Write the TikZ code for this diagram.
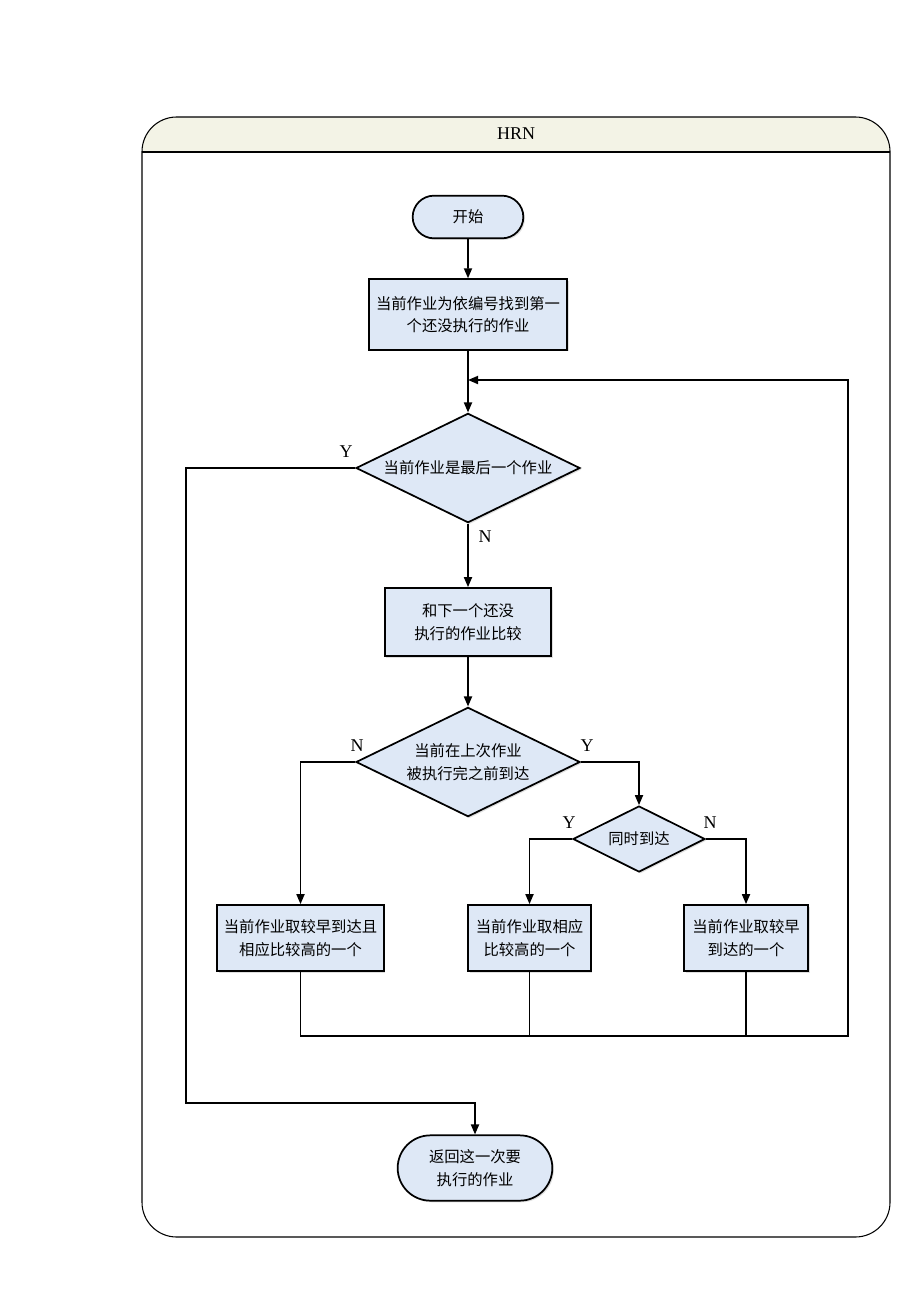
\documentclass[tikz,border=0pt]{standalone}
\usepackage{fontspec}
\setmainfont{Liberation Serif}
\newfontfamily\cjk{Noto Sans CJK SC}
\usepackage{tikz}
\usetikzlibrary{shapes,shapes.geometric,shapes.misc,arrows.meta,shadows,calc}

\definecolor{boxfill}{RGB}{222,232,246}
\definecolor{headfill}{RGB}{243,243,230}

\begin{document}
\begin{tikzpicture}[x=0.75pt, y=-0.75pt, line width=1.3pt,
        arr/.style={-{Triangle[length=7.5pt,width=6pt]}}]
      \tikzstyle{base} = [draw, fill=boxfill, inner sep=0pt, align=center,
        font=\cjk\fontsize{11.5}{17}\selectfont,
        drop shadow={shadow xshift=1.2pt, shadow yshift=-1.2pt, fill=black!25}]
      \tikzstyle{proc} = [base, rectangle]
      \tikzstyle{term} = [base, rounded rectangle]
      \tikzstyle{decide} = [base, diamond, aspect=2]
      \tikzstyle{yn} = [font=\fontsize{13.5}{15}\selectfont]
      \useasboundingbox (0,0) rectangle (920,1302);
      % frame with header
      \begin{scope}
        \clip[rounded corners=26pt] (142,117) rectangle (890,1237);
        \fill[headfill] (142,117) rectangle (890,152);
      \end{scope}
      \draw[line width=0.8pt, rounded corners=26pt] (142,117) rectangle (890,1237);
      \draw[line width=0.8pt] (142,152) -- (890,152);
      \node (HRN) at (516,134) [yn] {HRN};
      % nodes
      \node (START) at (468,217) [term, minimum width=83pt, minimum height=32pt] {开始};
      \node (FIRST) at (468,314.5) [proc, minimum width=148.5pt, minimum height=53pt]
        {当前作业为依编号找到第一\\个还没执行的作业};
      \node (LAST) at (468,468) [decide, minimum width=168pt, minimum height=82pt]
        {当前作业是最后一个作业};
      \node (CMP) at (468,622) [proc, minimum width=125pt, minimum height=51pt]
        {和下一个还没\\执行的作业比较};
      \node (BEFORE) at (468,762) [decide, minimum width=168pt, minimum height=82pt]
        {当前在上次作业\\被执行完之前到达};
      \node (SAME) at (639,839) [decide, minimum width=99pt, minimum height=49.5pt]
        {同时到达};
      \node (EARLYHI) at (300.5,938) [proc, minimum width=125pt, minimum height=49.5pt]
        {当前作业取较早到达且\\相应比较高的一个};
      \node (HI) at (529.5,938) [proc, minimum width=92pt, minimum height=49.5pt]
        {当前作业取相应\\比较高的一个};
      \node (EARLY) at (746,938) [proc, minimum width=93pt, minimum height=49.5pt]
        {当前作业取较早\\到达的一个};
      \node (END) at (475,1168) [term, minimum width=116pt, minimum height=49pt]
        {返回这一次要\\执行的作业};
      \coordinate (JOIN) at (468,380);
      \coordinate (RB) at (848,1036);
      \coordinate (LB) at (186,1103);
      % connectors
      \draw[arr] (START) -- (FIRST);
      \draw[arr] (FIRST) -- (LAST);
      \draw[arr] (LAST) -- (CMP);
      \draw[arr] (CMP) -- (BEFORE);
      \draw[arr] (LAST.west) -| (LB) -| (END.north);
      \draw[arr] (BEFORE.west) -| (EARLYHI.north);
      \draw[arr] (BEFORE.east) -| (SAME.north);
      \draw[arr] (SAME.west) -| (HI.north);
      \draw[arr] (SAME.east) -| (EARLY.north);
      \draw[arr] (EARLYHI.south) |- (RB) |- (JOIN);
      \draw (HI.south) -- (HI.south |- RB);
      \draw (EARLY.south) -- (EARLY.south |- RB);
      % labels
      \node at (346,452) [yn] {Y};
      \node at (485,537) [yn] {N};
      \node at (357,746) [yn] {N};
      \node at (587,746) [yn] {Y};
      \node at (569,823) [yn] {Y};
      \node at (710,823) [yn] {N};
    \end{tikzpicture}
\end{document}
